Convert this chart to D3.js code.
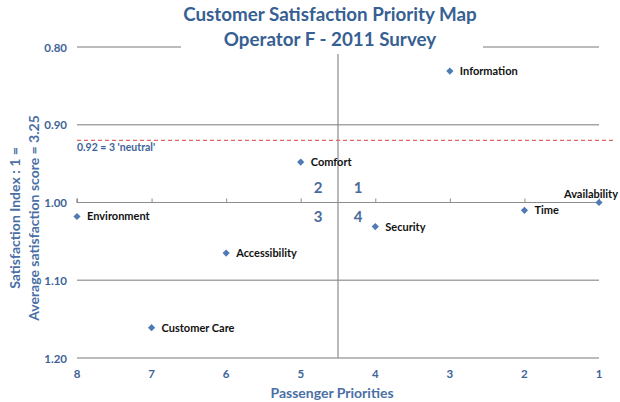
<!DOCTYPE html>
<html lang="en">
<head>
  <meta charset="utf-8">
  <title>Customer Satisfaction Priority Map</title>
  <style>
    html,body { margin:0; padding:0; background:#fff; }
    svg { display:block; font-family: Lato, "Open Sans", sans-serif; }
  </style>
  <script src="https://d3js.org/d3.v7.min.js"></script>
</head>
<body>
  <svg width="620" height="402"></svg>
  <script>
  // data
  const services   = ["Information", "Comfort", "Availability", "Time", "Environment", "Security", "Accessibility", "Customer Care"];
  const priorities = [3, 5, 1, 2, 8, 4, 6, 7];
  const satisfaction = [0.831, 0.948, 1.0, 1.010, 1.018, 1.031, 1.065, 1.161];
  const xTicks = [8, 7, 6, 5, 4, 3, 2, 1];
  const yTicks = [0.8, 0.9, 1.0, 1.1, 1.2];
  const neutral = 0.92;
  const quadrants = [
    { label: "1", side: 1, up: true },
    { label: "2", side: -1, up: true },
    { label: "3", side: -1, up: false },
    { label: "4", side: 1, up: false }
  ];

  const svg = d3.select("svg");
  const blue = "#3e6399";
  const x = d3.scaleLinear().domain([8, 1]).range([77, 599]);
  const y = d3.scaleLinear().domain([0.8, 1.2]).range([47, 358]);

  // horizontal gridlines (1.00 is the axis itself)
  svg.append("g").selectAll("line")
    .data(yTicks.filter(d => d !== 1.0))
    .join("line")
      .attr("x1", x(8)).attr("x2", x(1))
      .attr("y1", d => y(d)).attr("y2", d => y(d))
      .attr("stroke", "#a6a6a6").attr("stroke-width", 1.3);

  // vertical divider at 4.5
  svg.append("line")
    .attr("x1", x(4.5)).attr("x2", x(4.5))
    .attr("y1", y(0.8)).attr("y2", y(1.2))
    .attr("stroke", "#8c8c8c").attr("stroke-width", 1.2);

  // x axis crossing at 1.00, small ticks pointing up
  const xAxis = svg.append("g")
    .attr("transform", `translate(0,${y(1.0)})`)
    .call(d3.axisTop(x).tickValues(xTicks).tickSize(4).tickFormat(""));
  xAxis.select(".domain").attr("stroke", "#8c8c8c").attr("stroke-width", 1.2)
    .attr("d", `M${x(8)},-4V0H${x(1)}`);
  xAxis.selectAll(".tick line").attr("stroke", "#8c8c8c");

  // x tick labels sit at the bottom
  svg.append("g").selectAll("text")
    .data(xTicks)
    .join("text")
      .attr("x", d => x(d)).attr("y", 378)
      .attr("text-anchor", "middle")
      .attr("font-size", 11.5).attr("font-weight", "bold")
      .attr("fill", blue)
      .text(d => d);

  // y tick labels
  svg.append("g").selectAll("text")
    .data(yTicks)
    .join("text")
      .attr("x", 67).attr("y", d => y(d) + 4.5)
      .attr("text-anchor", "end")
      .attr("font-size", 11.5).attr("font-weight", "bold")
      .attr("fill", blue)
      .text(d3.format(".2f"));

  // neutral line
  svg.append("line")
    .attr("x1", x(8)).attr("x2", 616)
    .attr("y1", y(neutral)).attr("y2", y(neutral))
    .attr("stroke", "#e06666").attr("stroke-width", 1.2)
    .attr("stroke-dasharray", "4,3");
  svg.append("text")
    .attr("x", 77).attr("y", y(neutral) + 10.5)
    .attr("font-size", 10.5).attr("font-weight", "bold")
    .attr("fill", blue)
    .text("0.92 = 3 'neutral'");

  // quadrant numbers
  svg.append("g").selectAll("text")
    .data(quadrants)
    .join("text")
      .attr("x", d => x(4.5) + d.side * 20)
      .attr("y", d => d.up ? y(1.0) - 10 : y(1.0) + 19)
      .attr("text-anchor", "middle")
      .attr("font-size", 15).attr("font-weight", "bold")
      .attr("fill", "#4a6a9c")
      .text(d => d.label);

  // points
  const pts = services.map((s, i) => ({ s, px: priorities[i], py: satisfaction[i] }));
  const sym = d3.symbol().type(d3.symbolSquare).size(26);
  const g = svg.append("g").selectAll("g")
    .data(pts)
    .join("g")
      .attr("transform", d => `translate(${x(d.px)},${y(d.py)})`);
  g.append("path").attr("d", sym).attr("transform", "rotate(45)").attr("fill", "#4f7ab3");
  g.append("text")
    .attr("x", d => d.s === "Availability" ? 19 : 10)
    .attr("y", d => d.s === "Availability" ? -5 : 4)
    .attr("text-anchor", d => d.s === "Availability" ? "end" : "start")
    .attr("font-size", 11).attr("font-weight", "bold")
    .attr("fill", "#111")
    .text(d => d.s);

  // title, with white backing over the top gridline
  svg.append("rect")
    .attr("x", 181).attr("y", 0).attr("width", 302).attr("height", 54)
    .attr("fill", "#fff");
  const title = svg.append("text")
    .attr("text-anchor", "middle")
    .attr("font-size", 18.8).attr("font-weight", "bold")
    .attr("fill", "#376092");
  title.append("tspan").attr("x", 330).attr("y", 21).text("Customer Satisfaction Priority Map");
  title.append("tspan").attr("x", 330).attr("y", 46).text("Operator F - 2011 Survey");

  // axis titles
  svg.append("text")
    .attr("x", 332).attr("y", 398)
    .attr("text-anchor", "middle")
    .attr("font-size", 14).attr("font-weight", "bold")
    .attr("fill", "#4a6fa5")
    .text("Passenger Priorities");

  const yt = svg.append("text")
    .attr("transform", "translate(0,218) rotate(-90)")
    .attr("text-anchor", "middle")
    .attr("font-size", 14).attr("font-weight", "bold")
    .attr("fill", "#4a6fa5");
  yt.append("tspan").attr("x", 0).attr("y", 20).text("Satisfaction Index : 1 =");
  yt.append("tspan").attr("x", 0).attr("y", 39).text("Average satisfaction score = 3.25");
  </script>
</body>
</html>
